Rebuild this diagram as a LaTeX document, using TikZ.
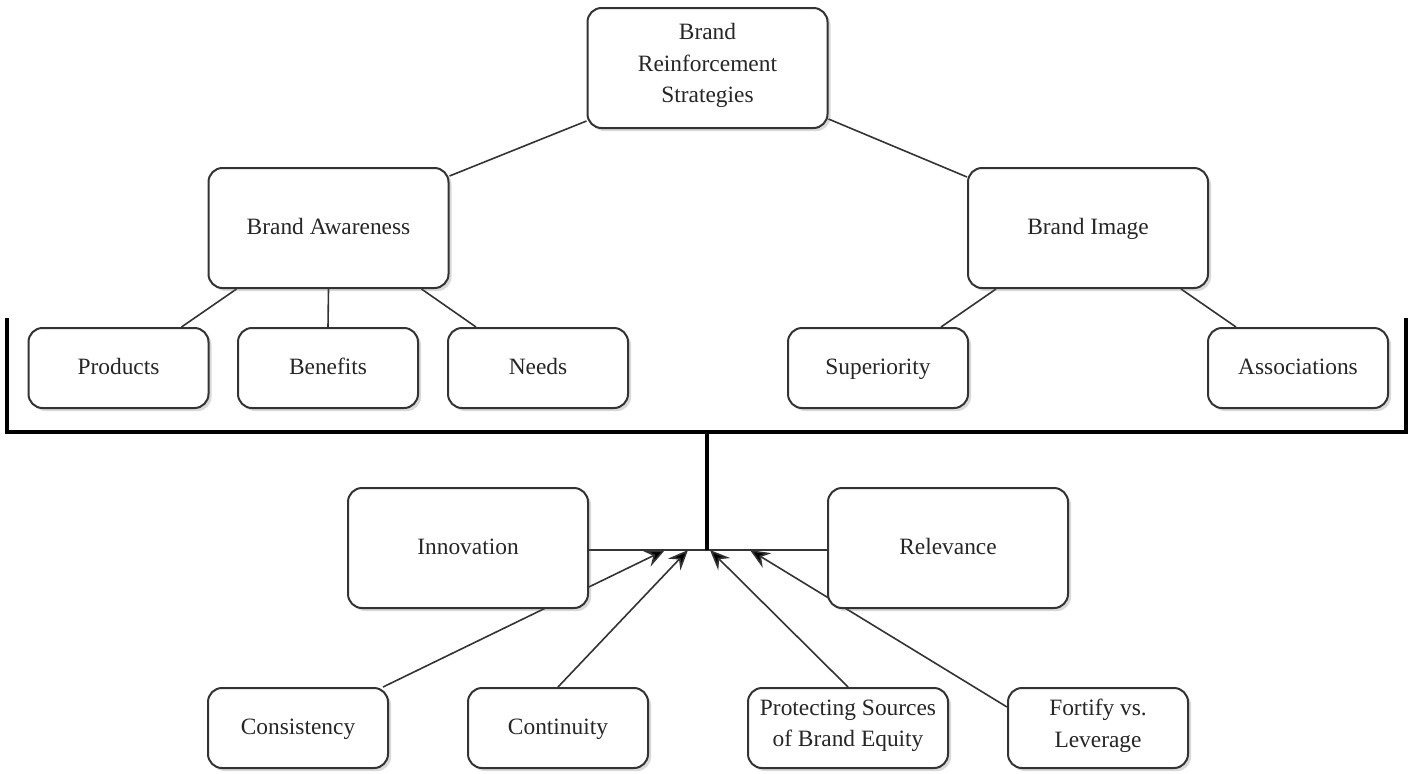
\documentclass[tikz,border=0pt]{standalone}
\usepackage{fontspec}
\setmainfont{Liberation Serif}
\usepackage{tikz}
\usetikzlibrary{positioning}
\usetikzlibrary{arrows.meta}
\usetikzlibrary{shadows}
\usetikzlibrary{backgrounds}
\tikzstyle{box} = [draw=black!80, line width=1pt, rounded corners=7pt, fill=white,
drop shadow={shadow xshift=1.5pt, shadow yshift=-1.5pt, opacity=0.25, fill=black!60},
align=center, inner sep=0pt, font=\fontsize{11.7pt}{15.8pt}\selectfont, text=black!85,
execute at begin node=\strut, execute at end node=\strut]
\tikzstyle{line} = [draw=black!80, line width=0.8pt]
\begin{document}
\begin{tikzpicture}[x=0.5pt, y=-0.5pt,
        big/.style={box, minimum width=120pt, minimum height=60pt},
        small/.style={box, minimum width=90pt, minimum height=40pt},
        bracket/.style={draw=black, line width=1.6pt},
        arrow/.style={line, -{Stealth[length=10pt, width=8.5pt, inset=3.5pt, fill=black]}}]
        \useasboundingbox (0,0) rectangle (1413,773);
        %% Vertices
        \node [big] at (707.5,68) (top) {Brand\\Reinforcement\\Strategies};
        \node [big] at (328.5,228) (aware) {Brand Awareness};
        \node [big] at (1088,228) (image) {Brand Image};
        \node [small] at (118.5,368) (prod) {Products};
        \node [small] at (328,368) (benef) {Benefits};
        \node [small] at (538,368) (needs) {Needs};
        \node [small] at (878,368) (superior) {Superiority};
        \node [small] at (1298,368) (assoc) {Associations};
        \node [big] at (468,548) (innov) {Innovation};
        \node [big] at (948,548) (relev) {Relevance};
        \node [small] at (298,728) (consist) {Consistency};
        \node [small] at (558,728) (contin) {Continuity};
        \node [small, minimum width=100pt] at (848,728) (protect) {Protecting Sources\\of Brand Equity};
        \node [small] at (1098,728) (fortify) {Fortify vs.\\Leverage};
        %% Bracket and hub
        \coordinate (ltop) at (7,318);
        \coordinate (lbot) at (7,432);
        \coordinate (rbot) at (1406,432);
        \coordinate (rtop) at (1406,318);
        \coordinate (stem) at (707,432);
        \coordinate (hub) at (707,550);
        \coordinate (tipA) at (665,550);
        \coordinate (tipB) at (688,550);
        \coordinate (tipC) at (710,550);
        \coordinate (tipD) at (750,550);
        \path [bracket] (ltop) -- (lbot) -- (rbot) -- (rtop);
        \path [bracket] (stem) -- (hub);
        %% Arcs
        \begin{scope}[on background layer]
        \path [line] ([yshift=4pt]top.south west) -- ([yshift=-4.5pt]aware.north east);
        \path [line] ([yshift=5pt]top.south east) -- ([yshift=-5pt]image.north west);
        \path [line] ([xshift=14.5pt]aware.south west) -- ([xshift=-14pt]prod.north east);
        \path [line] (aware.south) -- (benef.north);
        \path [line] ([xshift=-14pt]aware.south east) -- ([xshift=14.5pt]needs.north west);
        \path [line] ([xshift=14.5pt]image.south west) -- ([xshift=-14pt]superior.north east);
        \path [line] ([xshift=-14pt]image.south east) -- ([xshift=14.5pt]assoc.north west);
        \path [line] (innov.east |- hub) -- (relev.west |- hub);
        \path [arrow] ([xshift=-3pt]consist.north east) -- (tipA);
        \path [arrow] (contin.north) -- (tipB);
        \path [arrow] (protect.north) -- (tipC);
        \path [arrow] ([yshift=-10pt]fortify.north west) -- (tipD);
        \end{scope}
    \end{tikzpicture}
\end{document}
